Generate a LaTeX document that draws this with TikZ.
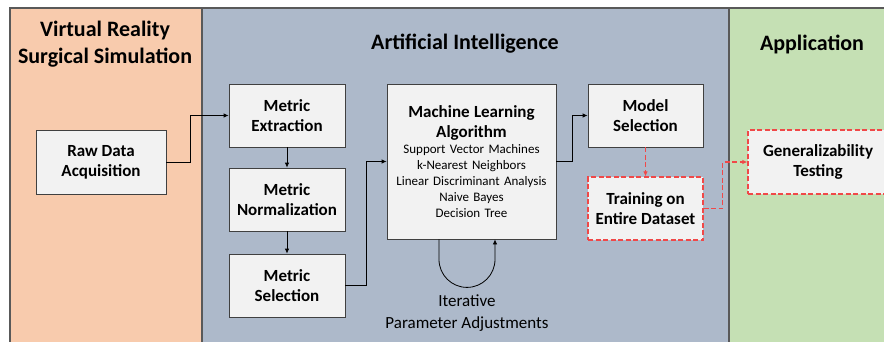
\documentclass[tikz,border=0pt]{standalone}
\usepackage{fontspec}
\setmainfont{Carlito}
\usetikzlibrary{arrows.meta}
\definecolor{vrorange}{HTML}{F8CBAD}
\definecolor{aiblue}{HTML}{ADB9CA}
\definecolor{appgreen}{HTML}{C5E0B4}
\definecolor{boxfill}{HTML}{F2F2F2}
\definecolor{edgegray}{HTML}{404040}
\definecolor{panelgray}{HTML}{595959}
\definecolor{trainred}{HTML}{F04848}
\tikzset{
  panel/.style={draw=panelgray, line width=1.3pt},
  box/.style={draw=edgegray, line width=0.8pt, fill=boxfill, align=center,
    inner sep=0pt, font=\fontsize{17}{20}\selectfont\bfseries},
  dashbox/.style={box, draw=trainred, line width=1.2pt, dash pattern=on 5pt off 2.5pt},
  heading/.style={align=center, font=\fontsize{22}{27}\selectfont\bfseries},
  flow/.style={draw=black, line width=0.8pt, -{Latex[length=5pt,width=4.5pt]}},
  redflow/.style={flow, draw=trainred, line width=1.1pt, dash pattern=on 5pt off 2.5pt},
}
\begin{document}
\begin{tikzpicture}[x=1pt, y=-1pt]
  \clip (0,0) rectangle (884,341);
  \fill[white] (0,0) rectangle (884,341);
  % Background panels
  \filldraw[panel, fill=vrorange] (10,8) rectangle (202,360);
  \filldraw[panel, fill=aiblue] (202,8) rectangle (729,360);
  \filldraw[panel, fill=appgreen] (729,8) rectangle (900,360);
  \node[heading] (vrtitle) at (105,44) {Virtual Reality\\Surgical Simulation};
  \node[heading] (aititle) at (465,44) {Artificial Intelligence};
  \node[heading] (apptitle) at (812,44) {Application};
  % Pipeline boxes
  \node[box, minimum width=130, minimum height=64] (raw) at (101,162) {Raw Data\\Acquisition};
  \node[box, minimum width=116, minimum height=63] (me) at (287,115.5) {Metric\\Extraction};
  \node[box, minimum width=116, minimum height=63] (mn) at (287,199.5) {Metric\\Normalization};
  \node[box, minimum width=116, minimum height=63] (ms) at (287,285.5) {Metric\\Selection};
  \node[box, minimum width=169, minimum height=155, text width=165,
    font=\fontsize{13}{16}\selectfont] (ml) at (471.5,161.5)
    {{\fontsize{17}{20}\selectfont\bfseries Machine Learning\\[4pt]Algorithm}\\
     Support Vector Machines\\k-Nearest Neighbors\\Linear Discriminant Analysis\\
     Naive Bayes\\Decision Tree};
  \node[box, minimum width=115, minimum height=63] (model) at (645.5,115.5) {Model\\Selection};
  \node[dashbox, minimum width=115, minimum height=63] (train) at (645.5,208.5) {Training on\\Entire Dataset};
  \node[dashbox, minimum width=140, minimum height=64] (gen) at (818,162) {Generalizability\\Testing};
  \node[align=center, font=\fontsize{17}{22}\selectfont] (iter) at (467,313) {Iterative\\Parameter Adjustments};
  % Connectors
  \draw[flow] (raw.east) -- ++(24,0) |- (me.west);
  \draw[flow] (me) -- (mn);
  \draw[flow] (mn) -- (ms);
  \draw[flow] (ms.east) -- ++(21,0) |- (ml.west);
  \draw[flow] (ml.east) -- ++(16,0) |- (model.west);
  \draw[flow] ([xshift=-32.5pt]ml.south) -- ++(0,20)
    arc[start angle=180, end angle=360, radius=28pt] -- ([xshift=23.5pt]ml.south);
  \draw[redflow] (model) -- (train);
  \draw[redflow] (train.east) -- ++(19,0) |- (gen.west);
\end{tikzpicture}
\end{document}
